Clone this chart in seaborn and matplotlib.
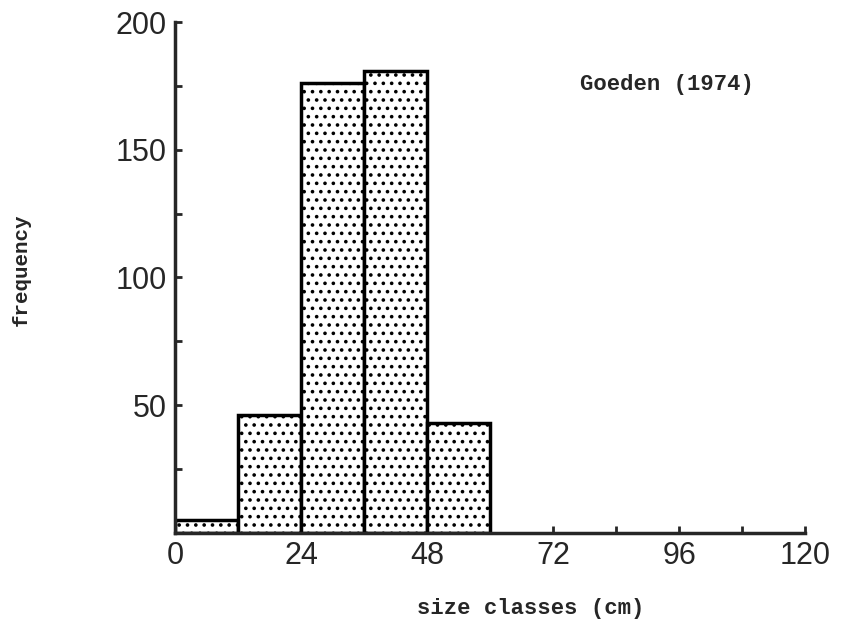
#import libraries
import matplotlib
matplotlib.use('Agg')
import matplotlib.pyplot as plt
import seaborn as sns
import numpy as np

#data (Goeden 1974 size classes)
bin_edges = [0, 12, 24, 36, 48, 60]
class_mid = [6, 18, 30, 42, 54]
frequency = [5, 46, 176, 181, 43]
x_ticks = [0, 24, 48, 72, 96, 120]
y_ticks = [50, 100, 150, 200]

sns.set_style('ticks')
plt.rcParams['hatch.linewidth'] = 1.4
plt.rcParams['hatch.color'] = 'black'

fig = plt.figure(figsize=(8.45, 6.29), dpi=100)
ax = fig.add_axes([0.207, 0.153, 0.746, 0.812])

#histogram with pre-counted classes
sns.histplot(x=class_mid, weights=frequency, bins=bin_edges, ax=ax,
             stat='count', color='white', edgecolor='black', linewidth=2.5,
             hatch='..', alpha=1)

ax.set_xlim(0, 120)
ax.set_ylim(0, 200)
ax.set_xticks(x_ticks)
ax.set_xticks(np.arange(0, 121, 12), minor=True)
ax.set_yticks(y_ticks)
ax.set_yticks(np.arange(0, 201, 25), minor=True)

sans = 'Liberation Sans'
mono = 'Liberation Mono'
ax.set_xticklabels([str(t) for t in x_ticks], fontsize=22, family=sans)
ax.set_yticklabels([str(t) for t in y_ticks], fontsize=22, family=sans)
ax.tick_params(which='both', direction='in', width=2, length=5, pad=6)

sns.despine(ax=ax)
for s in ['left', 'bottom']:
    ax.spines[s].set_linewidth(2.5)

ax.set_xlabel('size classes (cm)', fontsize=16, family=mono, weight='bold')
ax.set_ylabel('frequency', fontsize=15, family=mono, weight='bold')
ax.xaxis.set_label_coords(0.565, -0.128)
ax.yaxis.set_label_coords(-0.228, 0.515)
ax.text(0.643, 0.877, 'Goeden (1974)', transform=ax.transAxes,
        fontsize=16, family=mono, weight='bold', ha='left', va='center')

fig.savefig('out.png', dpi=100)
